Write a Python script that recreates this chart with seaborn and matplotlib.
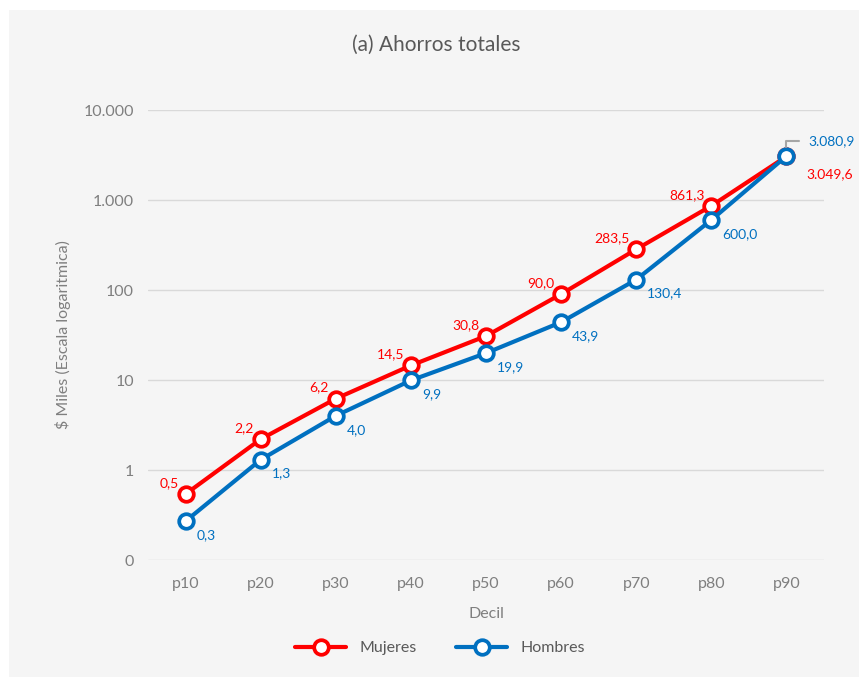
import numpy as np
import pandas as pd
import matplotlib
matplotlib.use('Agg')
import matplotlib.pyplot as plt
import seaborn as sns
from matplotlib.ticker import FixedLocator, FuncFormatter, NullLocator

deciles = ['p10', 'p20', 'p30', 'p40', 'p50', 'p60', 'p70', 'p80', 'p90']
mujeres = [0.54, 2.2, 6.2, 14.5, 30.8, 90.0, 283.5, 861.3, 3049.6]
hombres = [0.27, 1.3, 4.0, 9.9, 19.9, 43.9, 130.4, 600.0, 3080.9]
mujeres_lbl = ['0,5', '2,2', '6,2', '14,5', '30,8', '90,0', '283,5', '861,3', '3.049,6']
hombres_lbl = ['0,3', '1,3', '4,0', '9,9', '19,9', '43,9', '130,4', '600,0', '3.080,9']
y_ticks = [0.1, 1, 10, 100, 1000, 10000]
y_tick_lbl = ['0', '1', '10', '100', '1.000', '10.000']

bg = '#f5f5f5'
red = '#ff0000'
blue = '#0070c0'
gray = '#7f7f7f'

sns.set_style('white')
plt.rcParams['font.family'] = ['Lato', 'DejaVu Sans']

df = pd.DataFrame({
    'x': list(range(len(deciles))) * 2,
    'valor': mujeres + hombres,
    'serie': ['Mujeres'] * len(deciles) + ['Hombres'] * len(deciles),
})

fig = plt.figure(figsize=(8.59, 6.77), dpi=100)
fig.patch.set_facecolor('white')
# gray panel behind everything
fig.patches.append(plt.Rectangle((9 / 859, 0), 1, 1 - 10 / 677, transform=fig.transFigure,
                                 facecolor=bg, edgecolor='none', zorder=-10))
ax = fig.add_axes([148 / 859, 1 - 560 / 677, 676 / 859, 450 / 677])
ax.set_facecolor(bg)

sns.lineplot(data=df, x='x', y='valor', hue='serie', palette={'Mujeres': red, 'Hombres': blue},
             hue_order=['Mujeres', 'Hombres'], marker='o', markersize=10.5, markeredgewidth=2.7,
             markerfacecolor='white', linewidth=3, ax=ax, legend=False)
for ln, c in zip(ax.lines, [red, blue]):
    ln.set_markeredgecolor(c)

ax.set_yscale('log')
ax.set_ylim(0.1, 10000)
ax.set_xlim(-0.5, len(deciles) - 0.5)
ax.yaxis.set_major_locator(FixedLocator(y_ticks))
ax.yaxis.set_minor_locator(NullLocator())
ax.yaxis.set_major_formatter(FuncFormatter(lambda v, p: y_tick_lbl[y_ticks.index(v)] if v in y_ticks else ''))
ax.set_xticks(range(len(deciles)))
ax.set_xticklabels(deciles)
ax.tick_params(axis='both', length=0, labelsize=11.5, colors=gray, pad=10)
ax.tick_params(axis='x', pad=12)
ax.grid(axis='y', color='#d9d9d9', linewidth=1)
for s in ax.spines.values():
    s.set_visible(False)

ax.set_xlabel('Decil', fontsize=11.5, color=gray, labelpad=12)
ax.set_ylabel('$ Miles (Escala logaritmica)', fontsize=11.5, color=gray, labelpad=9)

fig.text(436 / 859, 1 - 45 / 677, '(a) Ahorros totales', ha='center', va='center',
         fontsize=15, color='#595959')

# data labels
for i in range(len(deciles) - 1):
    ax.annotate(mujeres_lbl[i], (i, mujeres[i]), xytext=(-5, 8), textcoords='offset points',
                ha='right', va='center', fontsize=10, color=red)
    ax.annotate(hombres_lbl[i], (i, hombres[i]), xytext=(8, -10), textcoords='offset points',
                ha='left', va='center', fontsize=10, color=blue)
last = len(deciles) - 1
ax.annotate(hombres_lbl[last], (last, hombres[last]), xytext=(16, 11), textcoords='offset points',
            ha='left', va='center', fontsize=10, color=blue,
            arrowprops=dict(arrowstyle='-', color='#a6a6a6', lw=1.5, relpos=(0, 0.45),
                            connectionstyle='angle,angleA=0,angleB=90,rad=0',
                            patchA=None, shrinkA=7, shrinkB=6.5))
ax.annotate(mujeres_lbl[last], (last, mujeres[last]), xytext=(14, -13), textcoords='offset points',
            ha='left', va='center', fontsize=10, color=red)

handles = [plt.Line2D([], [], color=c, lw=3, marker='o', markersize=10.5, markeredgewidth=2.7,
                      markerfacecolor='white', markeredgecolor=c) for c in [red, blue]]
fig.legend(handles, ['Mujeres', 'Hombres'], loc='center', bbox_to_anchor=(440 / 859, 1 - 648 / 677),
           ncol=2, frameon=False, fontsize=11.5, labelcolor='#595959', handlelength=3.2,
           columnspacing=2.5)

fig.savefig('out.png', dpi=100, facecolor=fig.get_facecolor())
